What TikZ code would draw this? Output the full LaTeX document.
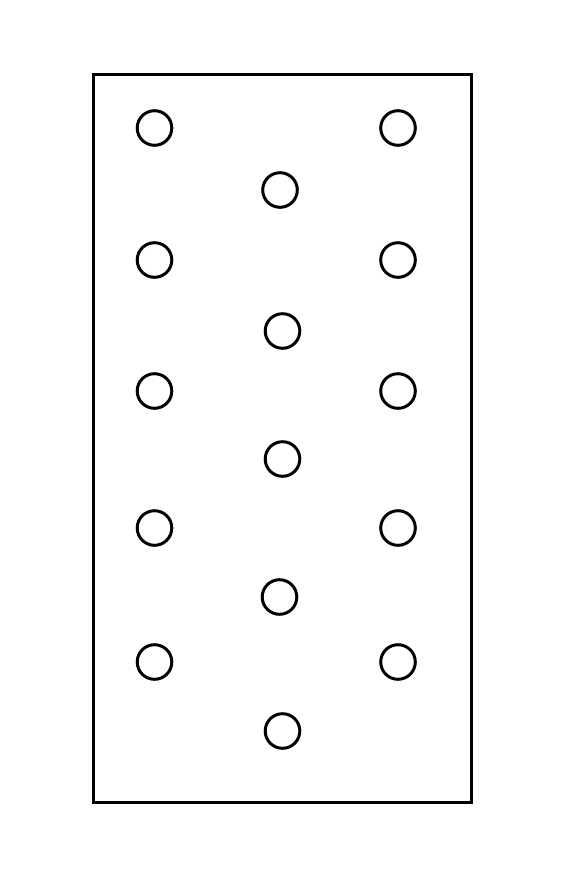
\documentclass[tikz,border=0pt]{standalone}
\usepackage{tikz}

\begin{document}
\begin{tikzpicture}[x=0.02cm,y=-0.02cm,line width=1.7pt]
    \useasboundingbox (0,0) rectangle (583,882);

    \draw (93.5,74.5) rectangle (471.5,802);

    \foreach \y in {128,260,391,528,662} {
        \draw (154.5,\y) circle (17.3);
        \draw (398,\y) circle (17.3);
    }

    \draw (280,190) circle (17.3);
    \draw (282.5,331) circle (17.3);
    \draw (282.5,459) circle (17.3);
    \draw (279.5,597) circle (17.3);
    \draw (282.5,731) circle (17.3);
\end{tikzpicture}
\end{document}
